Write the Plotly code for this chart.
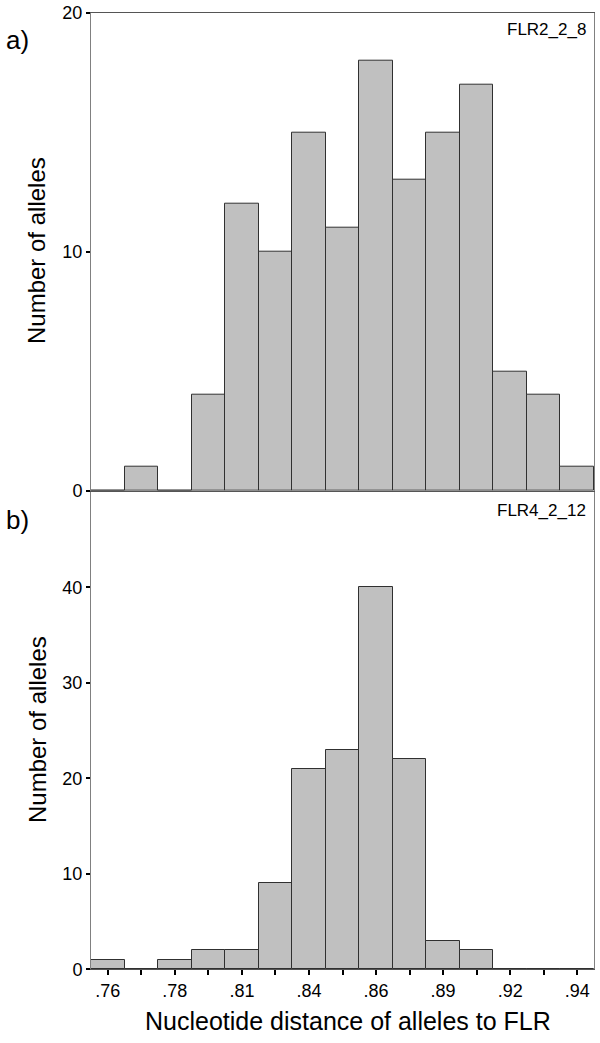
import plotly.graph_objects as go

# Bin centres (nucleotide distance) shared by both panels
bin_centers = [0.7570, 0.7703, 0.7836, 0.7969, 0.8102, 0.8235, 0.8368, 0.8501,
               0.8634, 0.8767, 0.8900, 0.9033, 0.9166, 0.9299, 0.9432]
tick_text = [".76", "", ".78", "", ".81", "", ".84", "", ".86", "", ".89", "", ".92", "", ".94"]
bin_width = 0.0133

# Panel a) FLR2_2_8
counts_a = [0, 1, 0, 4, 12, 10, 15, 11, 18, 13, 15, 17, 5, 4, 1]
# Panel b) FLR4_2_12
counts_b = [1, 0, 1, 2, 2, 9, 21, 23, 40, 22, 3, 2, 0, 0, 0]

H = 1043.0
def py(px):
    return 1 - px / H

fig = go.Figure()
bar_style = dict(marker=dict(color="#c0c0c0", line=dict(color="#303030", width=1)),
                 width=[bin_width] * len(bin_centers), showlegend=False, hoverinfo="x+y")
fig.add_trace(go.Bar(x=bin_centers, y=counts_a, xaxis="x", yaxis="y", **bar_style))
fig.add_trace(go.Bar(x=bin_centers, y=counts_b, xaxis="x2", yaxis="y2", **bar_style))

xr = [bin_centers[0] - bin_width / 2, bin_centers[-1] + bin_width / 2]
dom_x = [91 / 600, 594 / 600]
font = "Liberation Sans, Arial, sans-serif"

fig.update_layout(
    template="none",
    width=600, height=1043,
    margin=dict(l=0, r=0, t=0, b=0, pad=0),
    paper_bgcolor="white", plot_bgcolor="white",
    bargap=0,
    font=dict(family=font, color="black"),
    xaxis=dict(domain=dom_x, range=xr, anchor="y", showticklabels=False, ticks="",
               showline=True, linecolor="#555555", linewidth=1, mirror=True,
               showgrid=False, zeroline=False, automargin=False),
    yaxis=dict(domain=[py(490.7), py(12.7)], range=[0, 20], anchor="x",
               tickvals=[0, 10, 20], ticks="outside", ticklen=4, tickwidth=2,
               tickcolor="black", tickfont=dict(size=18), showline=True,
               linecolor="#808080", linewidth=1, mirror=True, showgrid=False,
               zeroline=False, automargin=False),
    xaxis2=dict(domain=dom_x, range=xr, anchor="y2",
                tickvals=bin_centers, ticktext=tick_text, ticks="outside",
                ticklen=5, tickwidth=2, tickcolor="black", tickfont=dict(size=18),
                showline=True, linecolor="#555555", linewidth=1, mirror=True,
                showgrid=False, zeroline=False, automargin=False),
    yaxis2=dict(domain=[py(969.3), py(492)], range=[0, 50], anchor="x2",
                tickvals=[0, 10, 20, 30, 40], ticks="outside", ticklen=4, tickwidth=2,
                tickcolor="black", tickfont=dict(size=18), showline=True,
                linecolor="#808080", linewidth=1, mirror=True, showgrid=False,
                zeroline=False, automargin=False),
)

ann = []
ann.append(dict(text="a)", x=4 / 600, y=py(40), xref="paper", yref="paper",
                xanchor="left", yanchor="middle", showarrow=False, font=dict(size=26)))
ann.append(dict(text="b)", x=4 / 600, y=py(520), xref="paper", yref="paper",
                xanchor="left", yanchor="middle", showarrow=False, font=dict(size=26)))
ann.append(dict(text="FLR2_2_8", x=588 / 600, y=py(30), xref="paper", yref="paper",
                xanchor="right", yanchor="middle", showarrow=False, font=dict(size=17)))
ann.append(dict(text="FLR4_2_12", x=588 / 600, y=py(510), xref="paper", yref="paper",
                xanchor="right", yanchor="middle", showarrow=False, font=dict(size=17)))
ann.append(dict(text="Number of alleles", x=37 / 600, y=py(251), xref="paper", yref="paper",
                xanchor="center", yanchor="middle", textangle=-90, showarrow=False,
                font=dict(size=24)))
ann.append(dict(text="Number of alleles", x=37 / 600, y=py(730), xref="paper", yref="paper",
                xanchor="center", yanchor="middle", textangle=-90, showarrow=False,
                font=dict(size=24)))
ann.append(dict(text="Nucleotide distance of alleles to FLR", x=348 / 600, y=py(1021),
                xref="paper", yref="paper", xanchor="center", yanchor="middle",
                showarrow=False, font=dict(size=25)))
fig.update_layout(annotations=ann)

fig.write_html("out.html", config={"displayModeBar": False},
               post_script="document.body.style.margin='0';document.body.style.overflow='hidden';")
